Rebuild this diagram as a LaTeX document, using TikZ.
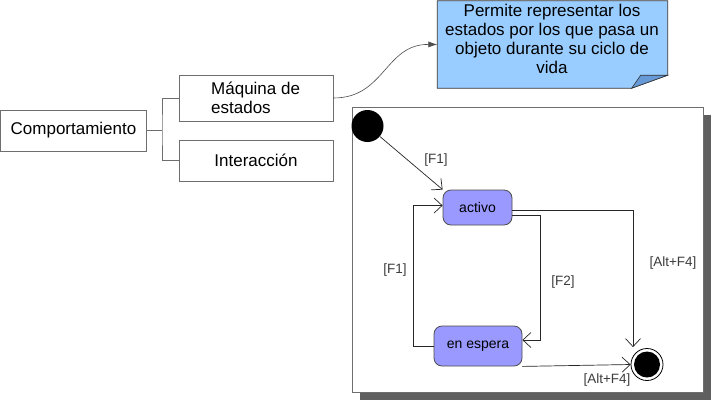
\documentclass[tikz,border=0pt]{standalone}
\usepackage{fontspec}
\setmainfont{Liberation Sans}
\usetikzlibrary{arrows.meta,calc}
\definecolor{notefill}{RGB}{153,204,255}
\definecolor{notefold}{RGB}{102,153,214}
\definecolor{statefill}{RGB}{153,153,255}
\definecolor{linegray}{RGB}{110,110,110}
\definecolor{labgray}{RGB}{60,60,60}
\definecolor{shadowgray}{RGB}{95,95,95}
\begin{document}
\begin{tikzpicture}[x=1pt,y=-1pt,
  font=\fontsize{17}{19}\selectfont,
  box/.style={draw=linegray, line width=0.8pt, rectangle, inner sep=0pt, fill=white},
  notebox/.style={rectangle, inner sep=0pt, minimum width=230pt, minimum height=87pt},
  statebox/.style={draw=black!70, line width=0.8pt, fill=statefill, rounded corners=8pt, inner sep=0pt,
     font=\fontsize{14}{16}\selectfont},
  trans/.style={draw=black!85, line width=0.7pt, -{Straight Barb[length=8pt,width=15pt,line width=0.7pt]}},
  guard/.style={text=labgray, font=\fontsize{13.5}{16}\selectfont, inner sep=1pt},
  tree/.style={draw=linegray, line width=0.8pt}
]
\useasboundingbox (0,0) rectangle (711,400);

% left tree
\node[box, minimum width=146pt, minimum height=41pt] (comp) at (73.5,130.5) {Comportamiento};
\node[box, minimum width=154pt, minimum height=46pt] (maq) at (256,98) {};
\node[anchor=west, align=left, inner sep=0pt] (maqtxt) at (211,98) {Máquina de\\estados};
\node[box, minimum width=154pt, minimum height=41pt] (inter) at (256,160.5) {Interacción};
\coordinate (fork) at (162,130.5);
\draw[tree] (comp.east) -- (fork);
\draw[tree] (maq.west) -| (fork) |- (inter.west);

% note
\node[notebox] (note) at (552.5,44.5) {};
\coordinate (fa) at ($(note.south east)+(0,-13)$);
\coordinate (fb) at ($(note.south east)+(-36,0)$);
\coordinate (fc) at ($(note.south east)+(-27,-13)$);
\draw[black!80, line width=0.7pt, fill=notefill]
  (note.north west) -- (note.north east) -- (fa) -- (fb) -- (note.south west) -- cycle;
\draw[black!80, line width=0.6pt, fill=notefold] (fa) -- (fc) -- (fb) -- cycle;
\node[align=center, inner sep=0pt] (notetxt) at (552,38.5)
  {Permite representar los\\estados por los que pasa un\\objeto durante su ciclo de\\vida};
\draw[draw=black!70, line width=0.6pt, -{Latex[length=9pt,width=6pt]}]
  (maq.east) .. controls (385,98) and (385,44) .. (note.west);

% state diagram frame
\fill[shadowgray] (360,115) rectangle (711,400);
\draw[draw=linegray, line width=0.8pt, fill=white] (352,107) rectangle (703,392);

\node[circle, fill=black, minimum size=32pt, inner sep=0pt] (init) at (367.5,126) {};
\node[statebox, minimum width=69pt, minimum height=35pt] (activo) at (477.5,207.5) {activo};
\node[statebox, minimum width=88pt, minimum height=40pt] (espera) at (478,346) {en espera};
\node[circle, draw=black, line width=0.8pt, fill=white, minimum size=32pt, inner sep=0pt] (final) at (647,364.5) {};
\node[circle, fill=black, minimum size=26pt, inner sep=0pt] (finalin) at (final.center) {};

\draw[trans] (init) -- (activo.north west);
\draw[trans] (espera.west) -- ++(-20,0) |- ([yshift=2pt]activo.west);
\draw[trans] ([yshift=-7.5pt]activo.east) -- (540,215) |- ([yshift=6pt]espera.east);
\draw[trans] ([yshift=-2.5pt]activo.east) -| ([xshift=-14pt,yshift=1pt]final.north);
\draw[trans] (espera.south east) -- (final.west);

\node[guard] (g1) at (436,160) {[F1]};
\node[guard] (g2) at (395,270) {[F1]};
\node[guard] (g3) at (563,282) {[F2]};
\node[guard] (g4) at (673,263) {[Alt+F4]};
\node[guard] (g5) at (607,380) {[Alt+F4]};
\end{tikzpicture}
\end{document}
